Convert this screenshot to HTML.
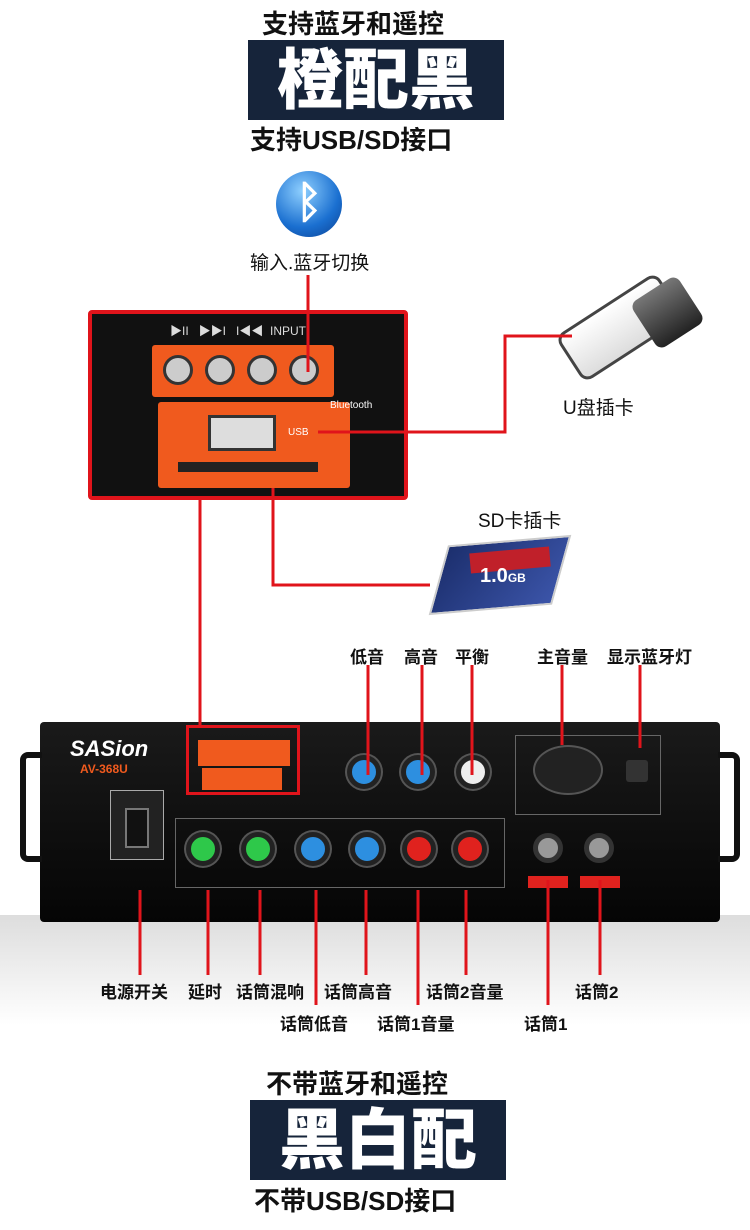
<!DOCTYPE html>
<html><head><meta charset="utf-8"><style>
*{margin:0;padding:0;box-sizing:border-box}
body{width:750px;height:1230px;background:#fff;position:relative;overflow:hidden;font-family:"Liberation Sans","Noto Sans CJK SC",sans-serif}
.a{position:absolute}
.t{position:absolute;font-weight:bold;color:#111;white-space:nowrap}
.navy{position:absolute;background:#16243a;color:#fff;font-weight:900;text-align:center}
.lbl{position:absolute;font-size:17px;font-weight:bold;color:#111;white-space:nowrap}
.knob{position:absolute;width:34px;height:34px;border-radius:50%;border:5px solid #222;box-shadow:0 0 0 2px #555}
</style></head><body>
<div class="t" style="left:262px;top:4px;font-size:26px">支持蓝牙和遥控</div>
<div class="navy" style="left:248px;top:40px;width:256px;height:80px;font-size:66px;line-height:80px">橙配黑</div>
<div class="t" style="left:250px;top:120px;font-size:26px">支持USB/SD接口</div>

<div class="a" style="left:276px;top:171px;width:66px;height:66px;border-radius:50%;background:radial-gradient(circle at 40% 30%,#8fd0ff,#1a6fd0 60%,#0b3f90)"></div>
<div class="a" style="left:296px;top:178px;color:#fff;font-size:44px;font-weight:bold">ᛒ</div>
<div class="t" style="left:250px;top:248px;font-size:19px;font-weight:normal">输入.蓝牙切换</div>

<div class="a" style="left:560px;top:300px;width:120px;height:55px;background:linear-gradient(#fff,#ddd);border:3px solid #444;border-radius:10px;transform:rotate(-33deg)"></div>
<div class="a" style="left:640px;top:285px;width:55px;height:55px;background:linear-gradient(#777,#222);border-radius:8px;transform:rotate(-33deg)"></div>
<div class="t" style="left:563px;top:393px;font-size:19px;font-weight:normal">U盘插卡</div>

<div class="t" style="left:478px;top:506px;font-size:19px;font-weight:normal">SD卡插卡</div>
<div class="a" style="left:440px;top:540px;width:120px;height:70px;background:linear-gradient(120deg,#1c2f6e,#3b54a8);transform:skewX(-20deg) rotate(-5deg);border:2px solid #ccc"></div>
<div class="a" style="left:470px;top:550px;width:80px;height:20px;background:#c0202a;transform:rotate(-5deg)"></div>
<div class="a" style="left:480px;top:565px;color:#fff;font-size:20px;font-weight:bold">1.0<span style="font-size:12px">GB</span></div>

<div class="a" style="left:88px;top:310px;width:320px;height:190px;background:#111;border:4px solid #e0141b;border-radius:4px"></div>
<div class="a" style="left:152px;top:345px;width:182px;height:52px;background:#f05a1e;border-radius:3px"></div>
<div class="a" style="left:158px;top:402px;width:192px;height:86px;background:#f05a1e;border-radius:3px"></div>
<div class="a" style="left:170px;top:322px;color:#ddd;font-size:12px">▶II &nbsp; ▶▶I &nbsp; I◀◀ &nbsp;INPUT</div>
<div class="a" style="left:163px;top:355px;width:30px;height:30px;border-radius:50%;background:#ccc;border:3px solid #333"></div>
<div class="a" style="left:205px;top:355px;width:30px;height:30px;border-radius:50%;background:#ccc;border:3px solid #333"></div>
<div class="a" style="left:247px;top:355px;width:30px;height:30px;border-radius:50%;background:#ccc;border:3px solid #333"></div>
<div class="a" style="left:289px;top:355px;width:30px;height:30px;border-radius:50%;background:#ccc;border:3px solid #333"></div>
<div class="a" style="left:208px;top:415px;width:68px;height:36px;background:#ddd;border:3px solid #333"></div>
<div class="a" style="left:178px;top:462px;width:140px;height:10px;background:#222"></div>
<div class="a" style="left:330px;top:400px;color:#fff;font-size:10px">Bluetooth</div>
<div class="a" style="left:288px;top:427px;color:#fff;font-size:10px">USB</div>

<div class="a" style="left:0;top:915px;width:750px;height:110px;background:linear-gradient(#ddd,#fff)"></div>
<div class="a" style="left:40px;top:722px;width:680px;height:200px;background:linear-gradient(#1a1a1a,#050505);border-radius:4px"></div>
<div class="a" style="left:70px;top:736px;color:#fff;font-size:22px;font-weight:bold;font-style:italic">SASion</div>
<div class="a" style="left:80px;top:762px;color:#f05a1e;font-size:12px;font-weight:bold">AV-368U</div>
<div class="a" style="left:110px;top:790px;width:54px;height:70px;border:1px solid #aaa;background:#222"></div>
<div class="a" style="left:125px;top:808px;width:24px;height:40px;background:#111;border:2px solid #777"></div>
<div class="a" style="left:186px;top:725px;width:114px;height:70px;border:3px solid #e0141b"></div>
<div class="a" style="left:198px;top:740px;width:92px;height:26px;background:#f05a1e"></div>
<div class="a" style="left:202px;top:768px;width:80px;height:22px;background:#f05a1e"></div>
<div class="a" style="left:515px;top:735px;width:146px;height:80px;border:1px solid #666"></div>
<div class="a" style="left:533px;top:745px;width:70px;height:50px;border-radius:50%;background:#222;border:2px solid #555"></div>
<div class="a" style="left:626px;top:760px;width:22px;height:22px;background:#333;border-radius:3px"></div>
<div class="a" style="left:175px;top:818px;width:330px;height:70px;border:1px solid #666"></div>
<div class="knob" style="left:186px;top:832px;background:#2ec84a"></div>
<div class="knob" style="left:241px;top:832px;background:#2ec84a"></div>
<div class="knob" style="left:296px;top:832px;background:#2d8fe0"></div>
<div class="knob" style="left:350px;top:832px;background:#2d8fe0"></div>
<div class="knob" style="left:402px;top:832px;background:#e0221e"></div>
<div class="knob" style="left:453px;top:832px;background:#e0221e"></div>
<div class="knob" style="left:347px;top:755px;background:#2d8fe0"></div>
<div class="knob" style="left:401px;top:755px;background:#2d8fe0"></div>
<div class="knob" style="left:456px;top:755px;background:#eee"></div>
<div class="a" style="left:533px;top:833px;width:30px;height:30px;border-radius:50%;background:#999;border:5px solid #333"></div>
<div class="a" style="left:584px;top:833px;width:30px;height:30px;border-radius:50%;background:#999;border:5px solid #333"></div>
<div class="a" style="left:528px;top:876px;width:40px;height:12px;background:#e0221e"></div>
<div class="a" style="left:580px;top:876px;width:40px;height:12px;background:#e0221e"></div>
<div class="a" style="left:20px;top:752px;width:22px;height:110px;border:6px solid #111;border-right:none;border-radius:8px 0 0 8px"></div>
<div class="a" style="left:718px;top:752px;width:22px;height:110px;border:6px solid #111;border-left:none;border-radius:0 8px 8px 0"></div>

<svg class="a" style="left:0;top:0" width="750" height="1230">
<g stroke="#e0141b" stroke-width="3" fill="none">
<polyline points="308,275 308,372"/>
<polyline points="318,432 505,432 505,336 572,336"/>
<polyline points="273,488 273,585 430,585"/>
<polyline points="200,500 200,725"/>
<polyline points="368,665 368,775"/>
<polyline points="422,665 422,775"/>
<polyline points="472,665 472,775"/>
<polyline points="562,665 562,745"/>
<polyline points="640,665 640,748"/>
<polyline points="140,890 140,975"/>
<polyline points="208,890 208,975"/>
<polyline points="260,890 260,975"/>
<polyline points="316,890 316,1005"/>
<polyline points="366,890 366,975"/>
<polyline points="418,890 418,1005"/>
<polyline points="466,890 466,975"/>
<polyline points="548,880 548,1005"/>
<polyline points="600,880 600,975"/>
</g></svg>

<div class="lbl" style="left:350px;top:643px">低音</div>
<div class="lbl" style="left:404px;top:643px">高音</div>
<div class="lbl" style="left:455px;top:643px">平衡</div>
<div class="lbl" style="left:537px;top:643px">主音量</div>
<div class="lbl" style="left:607px;top:643px">显示蓝牙灯</div>
<div class="lbl" style="left:100px;top:978px">电源开关</div>
<div class="lbl" style="left:188px;top:978px">延时</div>
<div class="lbl" style="left:236px;top:978px">话筒混响</div>
<div class="lbl" style="left:324px;top:978px">话筒高音</div>
<div class="lbl" style="left:426px;top:978px">话筒2音量</div>
<div class="lbl" style="left:575px;top:978px">话筒2</div>
<div class="lbl" style="left:280px;top:1010px">话筒低音</div>
<div class="lbl" style="left:377px;top:1010px">话筒1音量</div>
<div class="lbl" style="left:524px;top:1010px">话筒1</div>

<div class="t" style="left:266px;top:1064px;font-size:26px">不带蓝牙和遥控</div>
<div class="navy" style="left:250px;top:1100px;width:256px;height:80px;font-size:66px;line-height:80px">黑白配</div>
<div class="t" style="left:254px;top:1181px;font-size:26px">不带USB/SD接口</div>
</body></html>
